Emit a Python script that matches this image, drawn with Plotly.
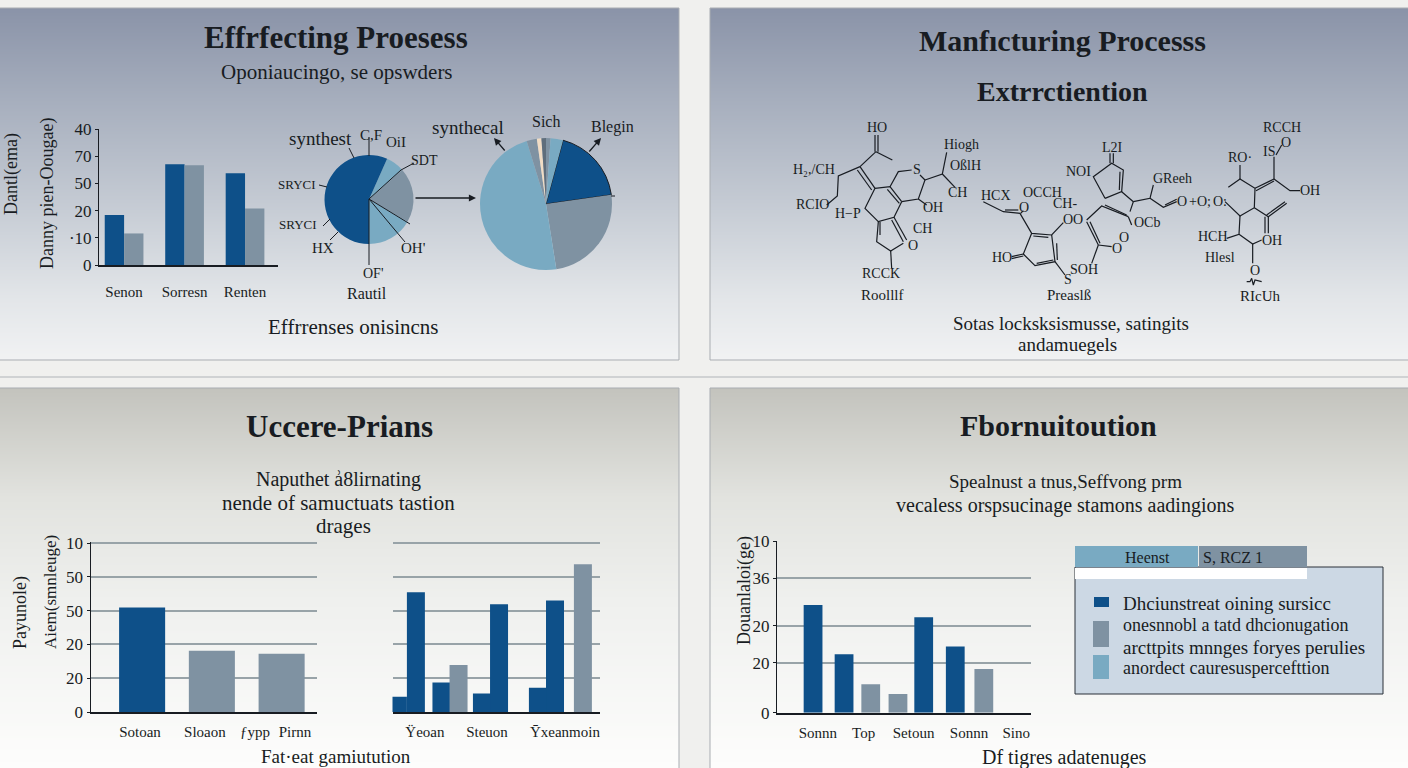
import numpy as np
import plotly.graph_objects as go

W, H = 1408, 768
DARK, GREY, LIGHT = "#0e5089", "#7f92a2", "#79aac2"
INK = "#181c22"
SERIF = "Liberation Serif"

# ---------- data ----------
c1_cats = ["Senon", "Sorresn", "Renten"]
c1_s1 = [18.4, 37.0, 33.7]
c1_s2 = [11.6, 36.7, 20.8]
c1_ticks = ["0", "·10", "20", "50", "70", "40"]

c2_vals = [30.9, 18.1, 17.2]
c2_labels = ["Sotoan", "Sloaon", "ƒypp", "Pirnn"]
c3_vals = [4.5, 35.4, 8.7, 13.9, 5.5, 31.9, 7.2, 33.0, 43.7]
c3_slots = [0.3, 1.3, 2.72, 3.67, 4.97, 5.92, 8.08, 9.03, 10.58]
c3_is_grey = [0, 0, 0, 1, 0, 0, 0, 0, 1]
c3_labels = ["Ϋeoan", "Steuon", "Ȳxeanmoin"]
c23_ticks = ["0", "20", "20", "50", "50", "10"]

c4_vals = [43.3, 23.5, 11.4, 7.5, 38.4, 26.6, 17.6]
c4_slots = [0.09, 1.74, 3.16, 4.61, 5.98, 7.66, 9.18]
c4_is_grey = [0, 0, 1, 1, 0, 0, 1]
c4_labels = ["Sonnn", "Top", "Setoun", "Sonnn", "Sino"]
c4_tickvals = [0, 20, 35, 54, 69]
c4_ticktext = ["0", "20", "20", "36", "10"]

pie1_vals = [24, 72, 60, 204]
pie1_cols = [LIGHT, GREY, LIGHT, DARK]
pie2_vals = [67, 89, 172, 9, 4, 4, 4, 11]
pie2_cols = [DARK, GREY, LIGHT, GREY, "#f0dcc4", "#5f6e7c", GREY, LIGHT]

legend_lines = ["Dhciunstreat oining sursicc", "onesnnobl a tatd dhcionugation",
                "arcttpits mnnges foryes perulies", "anordect cauresuspercefttion"]

# molecule bonds
bonds_a = [[(315,105),(315,155)],[(324,105),(324,155)],[(318,155),(270,200)],[(318,155),(367,180)],
 [(270,200),(205,228),(202,288),(170,315)],[(270,200),(315,265)],[(262,210),(305,270)],
 [(315,265),(360,260),(395,305)],[(352,268),(388,310)],[(360,260),(385,215),(425,210)],
 [(450,225),(465,240),(445,297),(395,305)],[(315,265),(285,325),(325,365),(372,352),(395,305)],
 [(325,365),(320,425),(362,453),(400,430)],[(330,365),(330,405)],[(372,352),(410,420)],[(365,360),(400,425)],
 [(362,453),(365,505)],[(465,240),(517,222),(530,157)],[(517,222),(555,262)],[(445,297),(470,315)],
 [(640,305),(700,335),(750,340),(785,400),(845,405),(880,368)],[(705,330),(745,330)],[(790,408),(835,412)],
 [(845,405),(855,485),(795,497),(760,462),(785,400)],[(860,430),(862,480)],[(850,480),(800,490)],
 [(725,470),(760,462)],[(725,476),(760,468)],[(855,485),(885,525)],[(752,340),(760,332)]]
bonds_b = [[(50,360),(95,318),(175,350)],[(105,315),(170,345)],[(50,365),(85,435)],[(60,365),(90,430)],
 [(85,435),(125,440)],[(85,435),(65,490)],[(175,350),(185,375)],[(105,295),(70,230),(125,190),(160,210),(155,275),(105,295)],
 [(150,215),(148,270)],[(120,160),(120,190)],[(130,160),(130,190)],[(155,275),(190,305),(180,335)],
 [(190,305),(240,295),(250,255)],[(240,295),(280,322),(320,305)],[(285,315),(320,298)],
 [(465,305),(510,348),(553,323),(555,265),(510,237),(475,262)],[(510,237),(510,195)],[(555,265),(612,237)],
 [(558,272),(612,243)],[(612,237),(612,170)],[(612,237),(660,272),(690,272)],[(618,165),(635,135)],
 [(553,323),(595,350),(650,310)],[(590,345),(645,305)],[(585,350),(585,400)],[(595,350),(595,400)],
 [(510,348),(507,403),(470,415)],[(507,403),(548,432),(575,420)],[(548,432),(548,490)],
 [(530,545),(540,545),(545,535),(550,555),(555,540),(575,545)]]

# ---------- helpers ----------
fig = go.Figure()
shapes, annos = [], []
px = lambda x: x / W
py = lambda y: 1 - y / H

def rect(x0, y0, x1, y1, fill, line=None, lw=1):
    shapes.append(dict(type="rect", xref="paper", yref="paper", x0=px(x0), x1=px(x1), y0=py(y0), y1=py(y1),
                       fillcolor=fill, line=dict(color=line or "rgba(0,0,0,0)", width=lw if line else 0), layer="above"))

def seg(pts, lw=1.1, color=INK):
    for (a, b), (c, d) in zip(pts, pts[1:]):
        shapes.append(dict(type="line", xref="paper", yref="paper", x0=px(a), y0=py(b), x1=px(c), y1=py(d),
                           line=dict(color=color, width=lw), layer="above"))

def T(x, y, s, size=15, bold=False, angle=0, anchor="center", color=INK):
    annos.append(dict(xref="paper", yref="paper", x=px(x), y=py(y), text=f"<b>{s}</b>" if bold else s, showarrow=False,
                      xanchor=anchor, yanchor="middle", textangle=angle, font=dict(family=SERIF, size=size, color=color)))

def arrow(x0, y0, x1, y1):
    annos.append(dict(xref="paper", yref="paper", axref="pixel", ayref="pixel", x=px(x1), y=py(y1), ax=x0 - x1, ay=y0 - y1,
                      text="", showarrow=True, arrowhead=2, arrowsize=1.1, arrowwidth=1.3, arrowcolor=INK))

def gradient(x0, x1, y0, y1, scale):
    n = y1 - y0
    fig.add_trace(go.Heatmap(x=[x0, x1], y=np.arange(y0, y1 + 1), z=((np.arange(n) + .5) / n)[:, None],
                             zmin=0, zmax=1, colorscale=scale, showscale=False, hoverinfo="skip"))

top_scale = [[0, "#8a93a8"], [.26, "#a6aebd"], [.55, "#c4cad3"], [.83, "#e3e6e9"], [1, "#f1f2f3"]]
bot_scale = [[0, "#c3c3bd"], [.29, "#e2e3df"], [.56, "#eff0ee"], [1, "#fdfdfc"]]
gradient(0, 679, 8, 360, top_scale)
gradient(710, W, 8, 360, top_scale)
gradient(0, 679, 388, H, bot_scale)
gradient(710, W, 388, H, bot_scale)

def bond_trace(bonds, ox, oy):
    xs, ys = [], []
    for b in bonds:
        for p in b:
            xs.append(ox + p[0] / 3); ys.append(oy + p[1] / 3)
        xs.append(None); ys.append(None)
    fig.add_trace(go.Scatter(x=xs, y=ys, mode="lines", line=dict(color=INK, width=1.2), hoverinfo="skip"))
bond_trace(bonds_a, 770, 100)
bond_trace(bonds_b, 1070, 100)

axes = dict(
    xaxis=dict(domain=[0, 1], range=[0, W], visible=False, fixedrange=True, automargin=False),
    yaxis=dict(domain=[0, 1], range=[H, 0], visible=False, fixedrange=True, automargin=False),
)

def add_axes(i, x0, x1, ytop, ybot, xr, yr, ytickvals, yticktext, xtickvals=None, xticktext=None, grid=False, showy=True, lw=2, standoff=5):
    tickfont = dict(family=SERIF, size=15, color=INK)
    axes[f"xaxis{i}"] = dict(domain=[px(x0), px(x1)], range=xr, anchor=f"y{i}", showgrid=False, zeroline=False,
                             showline=True, linecolor=INK, linewidth=lw, ticks="", tickfont=tickfont,
                             tickvals=xtickvals, ticktext=xticktext, tickmode="array" if xtickvals is not None else None,
                             ticklabelstandoff=standoff, fixedrange=True, tickangle=0, automargin=False)
    axes[f"yaxis{i}"] = dict(domain=[py(ybot), py(ytop)], range=yr, anchor=f"x{i}", showgrid=grid, gridcolor="#98a3a8", gridwidth=1.5,
                             zeroline=False, showline=showy, linecolor=INK, linewidth=1, ticks="outside" if showy else "", ticklen=3,
                             tickcolor=INK, tickvals=ytickvals if showy or grid else [], ticktext=yticktext, showticklabels=showy,
                             tickfont=dict(family=SERIF, size=17, color=INK), fixedrange=True, automargin=False)

# chart 1
fig.add_trace(go.Bar(x=list(range(3)), y=c1_s1, width=.32, offset=-.32, marker=dict(color=DARK, line_width=0), xaxis="x2", yaxis="y2"))
fig.add_trace(go.Bar(x=list(range(3)), y=c1_s2, width=.32, offset=0, marker=dict(color=GREY, line_width=0), xaxis="x2", yaxis="y2"))
add_axes(2, 99, 278, 129, 265, [-.415, 2.545], [0, 50], [0, 10, 20, 30, 40, 50], c1_ticks, [0, 1, 2], c1_cats, standoff=12)

# chart 2
fig.add_trace(go.Bar(x=list(range(3)), y=c2_vals, width=.66, marker=dict(color=[DARK, GREY, GREY], line_width=0), xaxis="x3", yaxis="y3"))
add_axes(3, 90.5, 316.5, 542, 712, [-.74, 2.5], [0, 50.3], [0, 10, 20, 30, 40, 50], c23_ticks,
         [-.03, .9, 1.62, 2.19], c2_labels, grid=True)

# chart 3
fig.add_trace(go.Bar(x=c3_slots, y=c3_vals, width=1.0, marker=dict(color=[GREY if g else DARK for g in c3_is_grey], line_width=0), xaxis="x4", yaxis="y4"))
add_axes(4, 392.5, 600, 542, 712, [0, 11.53], [0, 50.3], [0, 10, 20, 30, 40, 50], c23_ticks,
         [1.8, 5.25, 9.58], c3_labels, grid=True, showy=False)

# chart 4
fig.add_trace(go.Bar(x=c4_slots, y=c4_vals, width=1.0, marker=dict(color=[GREY if g else DARK for g in c4_is_grey], line_width=0), xaxis="x5", yaxis="y5"))
add_axes(5, 777, 1030.6, 540.7, 712.7, [-1.83, 11.67], [0, 69.2], c4_tickvals, c4_ticktext,
         [.35, 2.78, 5.44, 8.39, 10.9], c4_labels, grid=True)

# pies
def pie(vals, cols, cx, cy, r, rot, widths):
    fig.add_trace(go.Pie(values=vals, sort=False, direction="clockwise", rotation=rot, textinfo="none", hoverinfo="skip",
                         marker=dict(colors=cols, line=dict(color=INK, width=widths)),
                         domain=dict(x=[px(cx - r), px(cx + r)], y=[py(cy + r), py(cy - r)])))
pie(pie1_vals, pie1_cols, 369, 199.5, 44.5, 24, 0)
pie(pie2_vals, pie2_cols, 546, 204, 66, 15, [1, 0, 0, 0, 0, 0, 0, 0])

# panel frames
for x0, x1, y0, y1 in [(-2, 679, 8, 360), (710, W + 2, 8, 360), (-2, 679, 388, H + 2), (710, W + 2, 388, H + 2)]:
    rect(x0, y0, x1, y1, "rgba(0,0,0,0)", "#a9adb2", 1)
seg([(0, 377), (W, 377)], 1.5, "#c6c8ca")

# pie leader lines
for p in [[(349, 148), (354, 158)], [(369, 137), (369, 156)], [(369, 199), (401, 170), (414, 163)], [(369, 199), (405, 242)],
          [(369, 199), (369, 265)], [(319, 185), (327, 187)], [(323, 226), (330, 219)], [(330, 240), (338, 232)],
          [(369, 199), (410, 224)], [(611, 196), (615, 196)]]:
    seg(p, 1)
arrow(414, 198, 476, 198)
arrow(506, 152, 494, 138)
arrow(588, 153, 601, 138)

# top-left texts
T(336, 38, "Effrfecting Proesess", 31, True)
T(337, 72, "Oponiaucingo, se opswders", 21)
T(11, 174, "Dantl(ema)", 18, angle=-90)
T(47, 194, "Danny pien-Oougae)", 18, angle=-90)
T(320, 138, "synthest", 19); T(371, 135, "C,F", 15); T(396, 142, "OiI", 15); T(425, 161, "SDT", 14)
T(297, 184, "SRYCI", 13); T(298, 224, "SRYCI", 13); T(323, 248, "HX", 15); T(414, 248, "OH'", 15); T(373, 273, "OF'", 14)
T(367, 293, "Rautil", 16); T(468, 128, "synthecal", 19); T(546, 121, "Sich", 16); T(612, 127, "Blegin", 16)
T(353, 327, "Effrrenses onisincns", 21)

# top-right texts
T(1062, 40, "Manfıcturing Processs", 30, True)
T(1062, 91, "Extrrctiention", 28, True)
for x, y, s in [(877,127,"HO"),(961,144,"Hiogh"),(965,165,"OßlH"),(814,170,"H₂,/CH"),(812,205,"RCIO"),(917,169,"S"),(957,192,"CH"),
                (933,208,"OH"),(848,213,"H−P"),(922,229,"CH"),(913,245,"O"),(881,274,"RCCK"),(996,195,"HCX"),(1042,192,"OCCH"),
                (1065,203,"CH-"),(1024,207,"O"),(1073,219,"OO"),(1002,257,"HO"),(1084,269,"SOH"),(1068,280,"S"),
                (1112,147,"L2I"),(1078,171,"NOI"),(1172,179,"GReeh"),(1182,201,"O"),(1200,201,"+O;"),(1220,201,"O:"),
                (1147,223,"OCb"),(1124,237,"O"),(1117,248,"O"),(1282,127,"RCCH"),(1286,142,"O"),(1269,151,"IS"),(1240,157,"RO·"),
                (1310,191,"OH"),(1213,236,"HCH"),(1272,241,"OH"),(1220,257,"Hlesl"),(1255,271,"O")]:
    T(x, y, s, 14)
T(883, 295, "Roolllf", 15); T(1069, 295, "Preaslß", 15); T(1260, 296, "RIcUh", 15)
T(1071, 323, "Sotas locksksismusse, satingits", 19); T(1067, 344, "andamuegels", 19)

# bottom-left texts
T(339, 426, "Uccere-Prians", 31, True)
T(338, 479, "Naputhet ẚ8lirnating", 20); T(338, 503, "nende of samuctuats tastion", 21); T(343, 526, "drages", 21)
T(20, 613, "Payunole)", 18, angle=-90); T(50, 592, "Aiem(smnleuge)", 17, angle=-90)
T(336, 756, "Fat·eat gamiutution", 19)

# bottom-right texts
T(1058, 425, "Fbornuitoution", 30, True)
T(1065, 481, "Spealnust a tnus,Seffvong prm", 19); T(1065, 505, "vecaless orspsucinage stamons aadingions", 20)
T(744, 591, "Douanlaloi(ge)", 18, angle=-90)
T(1064, 757, "Df tigres adatenuges", 20)

# legend box
rect(1075, 567, 1383, 694, "#ccd8e4", "#2a3038", 1)
rect(1075, 546, 1198, 567, LIGHT)
rect(1199, 546, 1307, 567, GREY)
rect(1075, 568, 1307, 579, "#ffffff")
rect(1094, 597, 1109, 607, DARK)
rect(1093, 621, 1109, 647, GREY)
rect(1093, 655, 1109, 679, LIGHT)
T(1147, 557, "Heenst", 16); T(1201, 557, "S, RCZ 1", 16, anchor="left")
for y, s, sz in zip([603, 625, 647, 668], legend_lines, [19, 18, 19, 18]):
    T(1121, y, s, sz, anchor="left")

fig.update_layout(template="none", width=W, height=H, margin=dict(l=0, r=0, t=0, b=0), paper_bgcolor="#f0f0ee", plot_bgcolor="rgba(0,0,0,0)",
                  showlegend=False, barmode="overlay", shapes=shapes, annotations=annos, **axes)
fig.write_html("out.html", config=dict(displayModeBar=False),
               post_script="document.body.style.margin='0';document.body.style.overflow='hidden';")
